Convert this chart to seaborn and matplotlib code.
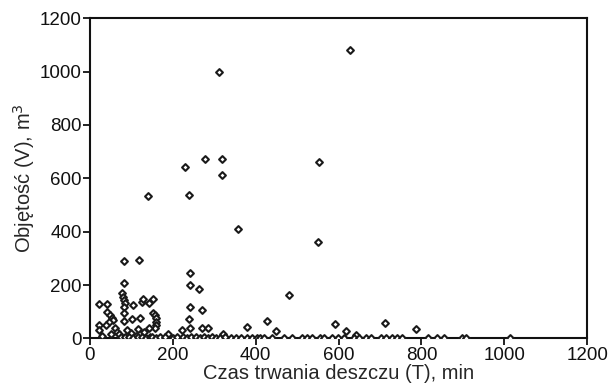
import numpy as np
import pandas as pd
import matplotlib
matplotlib.use("Agg")
import matplotlib.pyplot as plt
import seaborn as sns

# rain duration T [min] and volume V [m3]
outlier_T = [628, 312, 278, 318, 229, 318, 554, 141, 239, 357, 551, 481, 378, 427,
             448, 592, 618, 642, 713, 787, 322]
outlier_V = [1082, 1000, 673, 673, 643, 612, 662, 535, 538, 409, 361, 164, 43, 67,
             29, 53, 28, 13, 57, 35, 17]

mid_T = [242, 242, 262, 242, 271, 238, 242, 271, 285, 222]
mid_V = [245, 200, 184, 119, 107, 73, 38, 40, 40, 32]

left_T = [83, 118, 83, 77, 80, 82, 84, 82, 22, 42, 103, 125, 129, 143, 153, 83, 42, 48,
          52, 55, 45, 38, 102, 121, 83, 153, 157, 160, 160, 160, 157, 143, 22, 22, 189,
          60, 65, 70, 100, 110, 130, 50, 30, 90, 115]
left_V = [291, 293, 207, 170, 157, 144, 132, 119, 129, 129, 126, 138, 147, 132, 147, 94,
          100, 88, 78, 68, 60, 50, 72, 76, 66, 94, 88, 76, 63, 51, 38, 40, 51, 32, 16,
          40, 25, 15, 20, 10, 25, 18, 10, 30, 35]

zero_T = [75, 85, 95, 105, 115, 125, 135, 145, 150, 160, 170, 180, 200, 210, 225, 235,
          245, 255, 265, 275, 285, 295, 305, 315, 325, 340, 352, 365, 378, 390, 402, 410,
          420, 440, 468, 488, 512, 524, 536, 555, 565, 585, 598, 614, 638, 650, 667, 679,
          703, 715, 728, 740, 752, 817, 837, 854, 898, 908, 1015]
zero_V = [5, 4, 6, 3, 5, 4, 3, 6, 4, 3, 5, 4, 3, 5, 4, 3, 5, 4, 3, 4, 3, 4, 3, 3, 4, 3,
          3, 3, 3, 3, 3, 3, 3, 3, 3, 3, 3, 3, 3, 3, 3, 3, 3, 3, 3, 3, 3, 3, 3, 3, 3, 3,
          3, 3, 3, 3, 3, 3, 3]

df = pd.DataFrame({
    "T": outlier_T + mid_T + left_T + zero_T,
    "V": outlier_V + mid_V + left_V + zero_V,
})

sns.set_style("ticks")
plt.rcParams["font.family"] = ["Liberation Sans", "DejaVu Sans"]

fig = plt.figure(figsize=(6.1, 3.92), dpi=100)
ax = fig.add_axes([0.1475, 0.1365, 0.815, 0.817])

sns.scatterplot(data=df, x="T", y="V", ax=ax, marker="D", s=12,
                facecolor="white", edgecolor="#1a1a1a", linewidth=1.5, zorder=3)

ax.set_xlim(0, 1200)
ax.set_ylim(0, 1200)
ax.set_xticks(range(0, 1201, 200))
ax.set_yticks(range(0, 1201, 200))
ax.tick_params(axis="both", direction="out", length=5, width=1.3,
               labelsize=13.5, colors="#111111", pad=1)
ax.tick_params(top=False, right=False)
for sp in ax.spines.values():
    sp.set_visible(True)
    sp.set_linewidth(1.5)
    sp.set_color("#111111")

ax.set_xlabel("Czas trwania deszczu (T), min", fontsize=14.5, labelpad=0)
ax.set_ylabel("Objętość (V), m$^3$", fontsize=14.5, labelpad=2)

fig.savefig("out.png", dpi=100)
